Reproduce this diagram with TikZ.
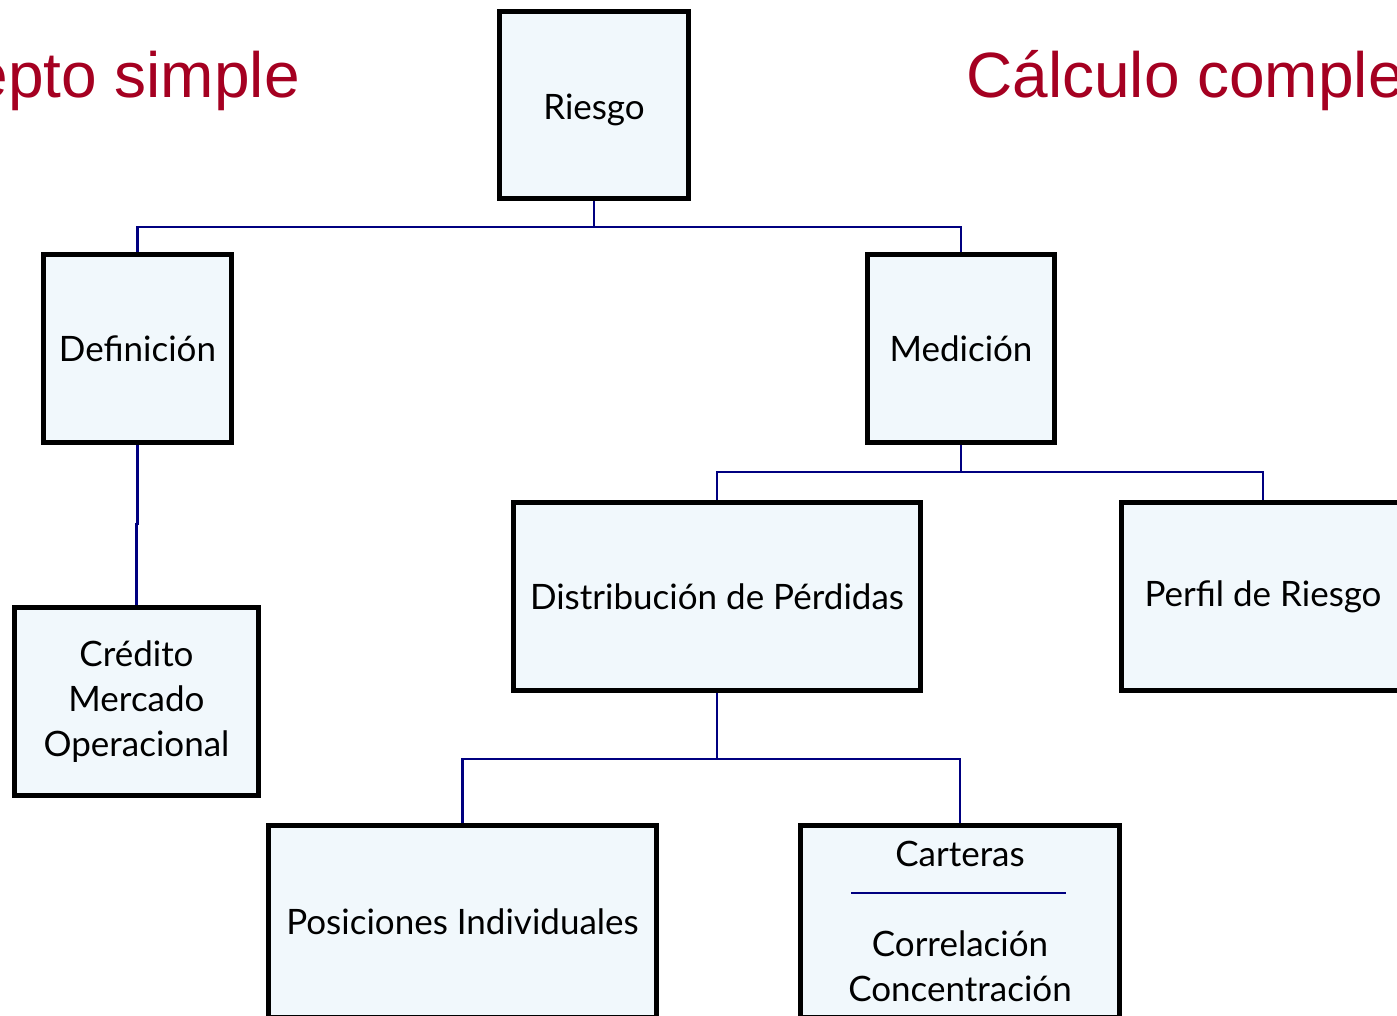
\documentclass[tikz,border=0pt]{standalone}
\usepackage{fontspec}
\setmainfont{Lato}
\newfontfamily\redfont{Liberation Sans}
\usetikzlibrary{backgrounds}
\definecolor{boxfill}{RGB}{241,248,252}
\definecolor{linknavy}{RGB}{0,0,128}
\definecolor{titlered}{RGB}{165,0,33}
\begin{document}
\begin{tikzpicture}[x=1pt,y=-1pt,
  box/.style={draw=black, line width=5pt, fill=boxfill, inner sep=0pt, align=center,
    font=\fontsize{35}{45}\selectfont},
  link/.style={draw=linknavy, line width=2.5pt},
  title/.style={text=titlered, inner sep=0pt, font=\redfont\fontsize{64}{70}\selectfont}]
\useasboundingbox (0,0) rectangle (1397,1015);
\clip (0,0) rectangle (1397,1015);

\node[title, anchor=base east] (tl) at (300,97) {epto simple};
\node[title, anchor=base west] (tr) at (966,97) {Cálculo comple};

\node[box, minimum width=189pt, minimum height=187pt] (riesgo) at (594,105) {\raisebox{-5pt}[\height][\depth]{Riesgo}};
\node[box, minimum width=188pt, minimum height=188pt] (def) at (137.5,348.5) {Definición};
\node[box, minimum width=187pt, minimum height=188pt] (med) at (961,348.5) {Medición};
\node[box, minimum width=244pt, minimum height=188pt] (cred) at (136.5,701.5) {Crédito\\Mercado\\Operacional};
\node[box, minimum width=407pt, minimum height=188pt] (dist) at (717,596.5) {Distribución de Pérdidas};
\node[box, minimum width=283pt, minimum height=188pt] (perfil) at (1263,596.5) {Perfil de Riesgo};
\node[box, minimum width=388pt, minimum height=192pt] (pos) at (462.5,921.5) {Posiciones Individuales};
\node[box, minimum width=319pt, minimum height=192pt] (cart) at (960,921.5) {Carteras\\[45pt]Correlación\\Concentración};

\coordinate (sepL) at (851,893);
\coordinate (sepR) at (1066,893);
\draw[link] (sepL) -- (sepR);

\begin{scope}[on background layer]
\fill[white] (0,0) rectangle (1397,1015);
\draw[link] (riesgo.south) -- ++(0,26) -| (def.north);
\draw[link] (riesgo.south) -- ++(0,26) -| (med.north);
\draw[link] (def.south) -- ++(0,79) -| (cred.north);
\draw[link] (med.south) -- ++(0,27) -| (dist.north);
\draw[link] (med.south) -- ++(0,27) -| (perfil.north);
\draw[link] (dist.south) -- ++(0,66) -| (pos.north);
\draw[link] (dist.south) -- ++(0,66) -| (cart.north);
\end{scope}
\end{tikzpicture}
\end{document}
